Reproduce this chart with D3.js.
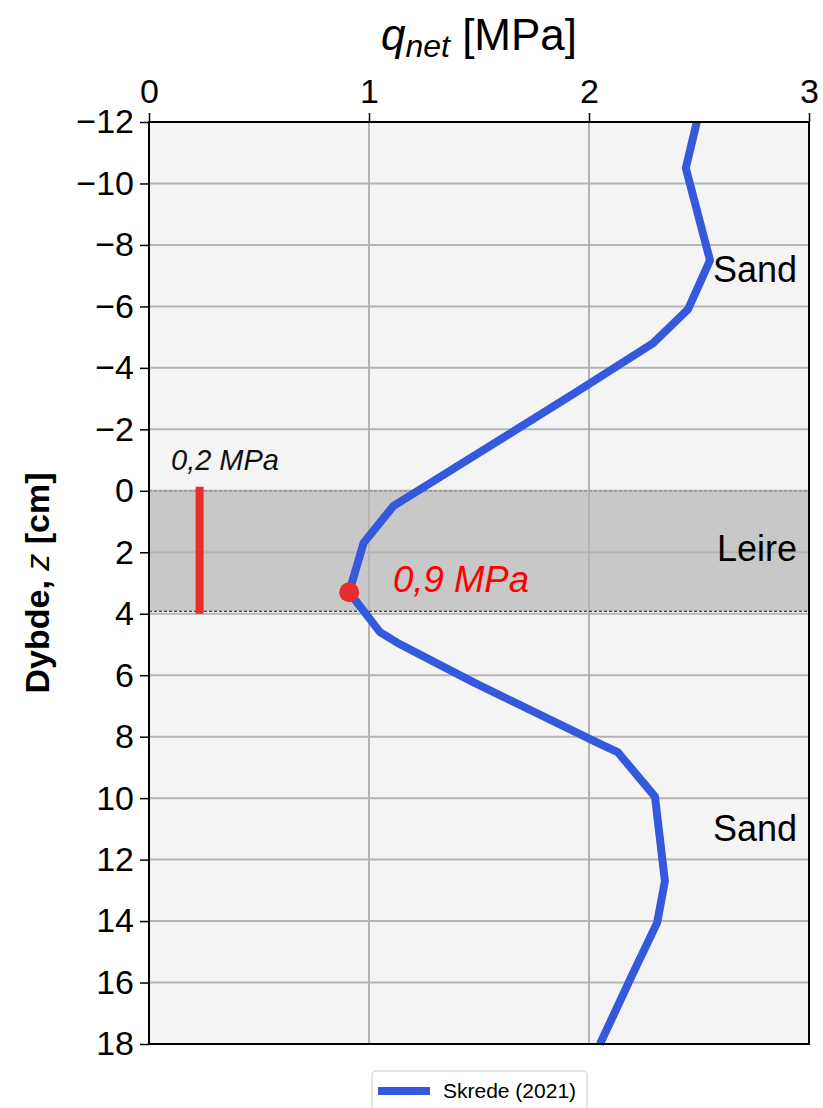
<!DOCTYPE html>
<html>
<head>
<meta charset="utf-8">
<script src="https://cdn.jsdelivr.net/npm/d3@7"></script>
<style>
  html, body { margin: 0; padding: 0; background: #fff; }
  svg { display: block; }
</style>
</head>
<body>
<svg id="chart" width="823" height="1108"></svg>
<script>
// ─── Data ────────────────────────────────────────────────────────────────────
const depthCm = [-12, -10.5, -7.5, -5.9, -4.8, -3.2, 0.5, 1.7, 3.3, 4.6, 4.95, 6.25, 8.2, 8.5, 9.95, 12.7, 14.05, 15.7, 18];
const qnetMPa = [2.49, 2.44, 2.55, 2.45, 2.29, 1.94, 1.11, 0.975, 0.91, 1.05, 1.13, 1.48, 2.04, 2.13, 2.30, 2.345, 2.31, 2.20, 2.05];
const seriesName = 'Skrede (2021)';

const xTicks = [0, 1, 2, 3];
const yTicks = [-12, -10, -8, -6, -4, -2, 0, 2, 4, 6, 8, 10, 12, 14, 16, 18];

const clayTop = 0;
const clayBottom = 3.92;
const layerLabels = [
  { text: 'Sand', z: -7.2 },
  { text: 'Leire', z: 1.9 },
  { text: 'Sand', z: 11.0 },
];

const refBar = { q: 0.23, z0: -0.13, z1: 4.0, label: '0,2 MPa' };
const minPoint = { q: 0.91, z: 3.3, label: '0,9 MPa' };

// ─── Style ───────────────────────────────────────────────────────────────────
const C = {
  line: '#3559dc',
  red: '#e82d2d',
  redText: '#ff0000',
  plotBg: '#f4f4f4',
  band: '#c8c8c8',
  grid: '#b4b4b4',
  font: "'Liberation Sans', Arial, sans-serif",
};

const svg = d3.select('#chart');
const m = { left: 149, right: 809, top: 122, bottom: 1044 };

const x = d3.scaleLinear().domain([0, 3]).range([m.left, m.right]);
const y = d3.scaleLinear().domain([-12, 18]).range([m.top, m.bottom]);

// Plot background
svg.append('rect')
  .attr('x', m.left).attr('y', m.top)
  .attr('width', m.right - m.left).attr('height', m.bottom - m.top)
  .attr('fill', C.plotBg);

// Clay band
svg.append('rect')
  .attr('x', m.left).attr('y', y(clayTop))
  .attr('width', m.right - m.left).attr('height', y(clayBottom) - y(clayTop))
  .attr('fill', C.band);

// Gridlines
svg.selectAll('line.gy').data(yTicks).enter().append('line')
  .attr('x1', m.left).attr('x2', m.right)
  .attr('y1', d => y(d)).attr('y2', d => y(d))
  .attr('stroke', C.grid).attr('stroke-width', 2);
svg.selectAll('line.gx').data(xTicks).enter().append('line')
  .attr('y1', m.top).attr('y2', m.bottom)
  .attr('x1', d => x(d)).attr('x2', d => x(d))
  .attr('stroke', C.grid).attr('stroke-width', 2);

// Band dashed borders
svg.append('line')
  .attr('x1', m.left).attr('x2', m.right)
  .attr('y1', y(clayTop)).attr('y2', y(clayTop))
  .attr('stroke', '#888').attr('stroke-width', 1.2).attr('stroke-dasharray', '3,2');
svg.append('line')
  .attr('x1', m.left).attr('x2', m.right)
  .attr('y1', y(clayBottom)).attr('y2', y(clayBottom))
  .attr('stroke', '#111').attr('stroke-width', 1.2).attr('stroke-dasharray', '3,2');

// Reference bar
svg.append('line')
  .attr('x1', x(refBar.q)).attr('x2', x(refBar.q))
  .attr('y1', y(refBar.z0)).attr('y2', y(refBar.z1))
  .attr('stroke', C.red).attr('stroke-width', 8);
svg.append('text')
  .attr('x', 171).attr('y', 470)
  .attr('font-family', C.font).attr('font-size', 29).attr('font-style', 'italic')
  .attr('fill', '#111').text(refBar.label);

// Profile line
const lineGen = d3.line().x(d => x(d[0])).y(d => y(d[1]));
const pts = depthCm.map((z, i) => [qnetMPa[i], z]);
svg.append('path')
  .datum(pts)
  .attr('d', lineGen)
  .attr('fill', 'none').attr('stroke', C.line).attr('stroke-width', 8)
  .attr('stroke-linejoin', 'round');

// Minimum point
svg.append('circle')
  .attr('cx', x(minPoint.q)).attr('cy', y(minPoint.z)).attr('r', 10)
  .attr('fill', C.red);
svg.append('text')
  .attr('x', 393).attr('y', 592)
  .attr('font-family', C.font).attr('font-size', 36.5).attr('font-style', 'italic')
  .attr('fill', C.redText).text(minPoint.label);

// Layer labels
layerLabels.forEach(l => {
  svg.append('text')
    .attr('x', m.right - 12).attr('y', y(l.z) + 12)
    .attr('text-anchor', 'end')
    .attr('font-family', C.font).attr('font-size', 36)
    .attr('fill', '#000').text(l.text);
});

// Frame
svg.append('rect')
  .attr('x', m.left).attr('y', m.top)
  .attr('width', m.right - m.left).attr('height', m.bottom - m.top)
  .attr('fill', 'none').attr('stroke', '#000').attr('stroke-width', 2);

// Top x axis
const xAxis = svg.append('g')
  .attr('transform', `translate(0,${m.top})`)
  .call(d3.axisTop(x).tickValues(xTicks).tickSize(9).tickPadding(10).tickFormat(d3.format('d')));
xAxis.select('.domain').remove();
xAxis.selectAll('line').attr('stroke', '#000').attr('stroke-width', 1.5);
xAxis.selectAll('text').attr('font-family', C.font).attr('font-size', 34).attr('fill', '#000');

// Left y axis
const yAxis = svg.append('g')
  .attr('transform', `translate(${m.left},0)`)
  .call(d3.axisLeft(y).tickValues(yTicks).tickSize(9).tickPadding(6)
    .tickFormat(d => (d < 0 ? '\u2212' + Math.abs(d) : String(d))));
yAxis.select('.domain').remove();
yAxis.selectAll('line').attr('stroke', '#000').attr('stroke-width', 1.5);
yAxis.selectAll('text').attr('font-family', C.font).attr('font-size', 34).attr('fill', '#000');

// X axis title
const xt = svg.append('text')
  .attr('x', 479).attr('y', 50)
  .attr('text-anchor', 'middle')
  .attr('font-family', C.font).attr('font-size', 44).attr('fill', '#000');
xt.append('tspan').attr('font-style', 'italic').text('q');
xt.append('tspan').attr('font-style', 'italic').attr('font-size', 32).attr('dy', 7).text('net');
xt.append('tspan').attr('dy', -7).text(' [MPa]');

// Y axis title
const yt = svg.append('text')
  .attr('transform', `translate(49,${(m.top + m.bottom) / 2}) rotate(-90)`)
  .attr('text-anchor', 'middle')
  .attr('font-family', C.font).attr('font-size', 34).attr('font-weight', 700).attr('fill', '#000');
yt.append('tspan').text('Dybde, ');
yt.append('tspan').attr('font-style', 'italic').attr('font-weight', 400).text('z');
yt.append('tspan').text(' [cm]');

// Legend
const lg = svg.append('g').attr('transform', 'translate(372,1071)');
lg.append('rect')
  .attr('width', 215).attr('height', 50).attr('rx', 4)
  .attr('fill', '#fff').attr('stroke', '#ddd').attr('stroke-width', 1.5);
lg.append('line')
  .attr('x1', 6).attr('x2', 58).attr('y1', 20).attr('y2', 20)
  .attr('stroke', C.line).attr('stroke-width', 8);
lg.append('text')
  .attr('x', 71).attr('y', 27)
  .attr('font-family', C.font).attr('font-size', 21).attr('fill', '#000')
  .text(seriesName);
</script>
</body>
</html>
